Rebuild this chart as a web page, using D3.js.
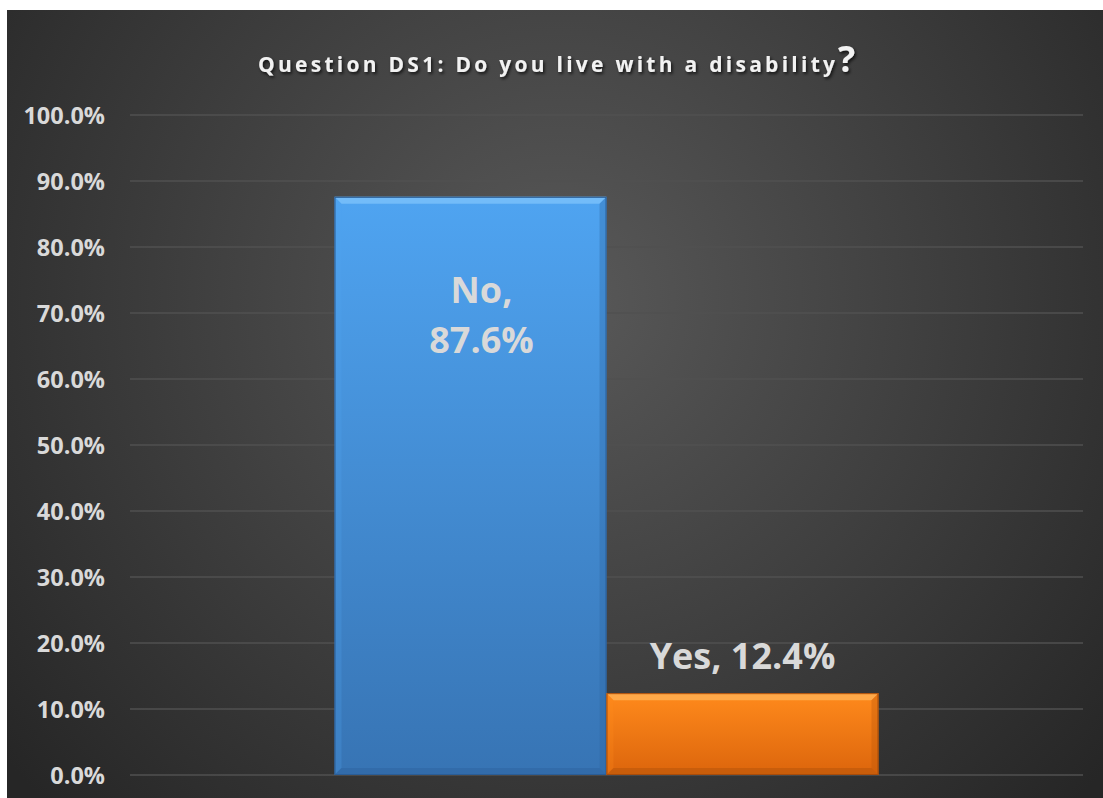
<!DOCTYPE html>
<html>
<head>
<meta charset="utf-8">
<script src="https://cdn.jsdelivr.net/npm/d3@7"></script>
<style>
  html, body { margin: 0; padding: 0; background: #fff; }
  svg { display: block; }
  text { font-family: "Open Sans", "Noto Sans", sans-serif; font-weight: bold; }
</style>
</head>
<body>
<svg id="chart" width="1103" height="798"></svg>
<script>
(function() {

  // chart data
  var categories = ["No", "Yes"];
  var values = [0.876, 0.124];
  var labels = ["No,|87.6%", "Yes, 12.4%"];
  var tickValues = [0, 0.1, 0.2, 0.3, 0.4, 0.5, 0.6, 0.7, 0.8, 0.9, 1.0];
  var titleText = "Question DS1: Do you live with a disability";

  var palette = {
    No: { top: "#4fa4f1", bottom: "#3774b4", light: "#7cc2fb", dark: "#2f66a3", edge: "#2a5d96" },
    Yes: { top: "#ff8a1c", bottom: "#dc650c", light: "#ffb255", dark: "#bb560a", edge: "#a84c0a" }
  };

  var svg = d3.select("#chart");
  var defs = svg.append("defs");

  // background gradient
  var bg = defs.append("radialGradient")
    .attr("id", "bg-grad")
    .attr("gradientUnits", "userSpaceOnUse")
    .attr("cx", 560).attr("cy", 300).attr("r", 720);
  bg.append("stop").attr("offset", "0%").attr("stop-color", "#595959");
  bg.append("stop").attr("offset", "100%").attr("stop-color", "#262626");

  svg.append("rect")
    .attr("x", 7).attr("y", 10)
    .attr("width", 1096).attr("height", 788)
    .attr("fill", "url(#bg-grad)");

  // title shadow
  var shadow = defs.append("filter").attr("id", "txt-shadow")
    .attr("x", "-10%").attr("y", "-30%").attr("width", "120%").attr("height", "160%");
  shadow.append("feDropShadow")
    .attr("dx", 1.5).attr("dy", 2).attr("stdDeviation", 1.5)
    .attr("flood-color", "#000").attr("flood-opacity", 0.7);

  categories.forEach(function(c) {
    var g = defs.append("linearGradient")
      .attr("id", "grad-" + c)
      .attr("x1", 0).attr("y1", 0).attr("x2", 0).attr("y2", 1);
    g.append("stop").attr("offset", "0%").attr("stop-color", palette[c].top);
    g.append("stop").attr("offset", "100%").attr("stop-color", palette[c].bottom);
  });

  var margin = { top: 115, right: 20, bottom: 23, left: 130 };
  var plotRight = 1083;
  var plotBottom = 775;

  var x = d3.scaleBand()
    .domain(categories)
    .range([margin.left, plotRight])
    .paddingInner(0)
    .paddingOuter(0.752);

  var y = d3.scaleLinear()
    .domain([0, 1])
    .range([plotBottom, margin.top]);

  // gridlines
  svg.append("g")
    .attr("class", "grid")
    .selectAll("line")
    .data(tickValues)
    .enter()
    .append("line")
    .attr("x1", margin.left)
    .attr("x2", plotRight)
    .attr("y1", function(d) { return y(d); })
    .attr("y2", function(d) { return y(d); })
    .attr("stroke", "#505050")
    .attr("stroke-width", 1.5);

  // y axis labels
  var yAxis = d3.axisLeft(y)
    .tickValues(tickValues)
    .tickFormat(d3.format(".1%"))
    .tickSize(0)
    .tickPadding(0);

  var yAxisG = svg.append("g")
    .attr("transform", "translate(105,0)")
    .call(yAxis);
  yAxisG.select(".domain").remove();
  yAxisG.selectAll("text")
    .attr("fill", "#d9d9d9")
    .attr("font-size", 23.5)
    .attr("font-family", "'Open Sans', sans-serif")
    .attr("font-weight", "bold")
    .attr("dy", "0.36em");

  // bars with bevel
  var bev = 7;
  var bars = svg.append("g").attr("class", "bars")
    .selectAll("g")
    .data(categories.map(function(c, i) { return { cat: c, value: values[i], label: labels[i] }; }))
    .enter()
    .append("g");

  bars.each(function(d) {
    var g = d3.select(this);
    var x0 = x(d.cat), x1 = x0 + x.bandwidth();
    var y0 = y(d.value), y1 = y(0);
    var col = palette[d.cat];

    g.append("rect")
      .attr("x", x0).attr("y", y0)
      .attr("width", x1 - x0).attr("height", y1 - y0)
      .attr("fill", "url(#grad-" + d.cat + ")");

    // top bevel
    g.append("polygon")
      .attr("points", [[x0, y0], [x1, y0], [x1 - bev, y0 + bev], [x0 + bev, y0 + bev]].join(" "))
      .attr("fill", col.light).attr("opacity", 0.8);
    // left bevel
    g.append("polygon")
      .attr("points", [[x0, y0], [x0 + bev, y0 + bev], [x0 + bev, y1 - bev], [x0, y1]].join(" "))
      .attr("fill", col.top).attr("opacity", 0.25);
    // right bevel
    g.append("polygon")
      .attr("points", [[x1, y0], [x1, y1], [x1 - bev, y1 - bev], [x1 - bev, y0 + bev]].join(" "))
      .attr("fill", col.dark).attr("opacity", 0.35);
    // bottom bevel
    g.append("polygon")
      .attr("points", [[x0, y1], [x0 + bev, y1 - bev], [x1 - bev, y1 - bev], [x1, y1]].join(" "))
      .attr("fill", col.dark).attr("opacity", 0.6);

    g.append("rect")
      .attr("x", x0 + 0.5).attr("y", y0 + 0.5)
      .attr("width", x1 - x0 - 1).attr("height", y1 - y0 - 1)
      .attr("fill", "none")
      .attr("stroke", col.edge)
      .attr("stroke-width", 1);
  });

  // data labels: inside top for tall bar, above for short bar
  bars.each(function(d) {
    var g = d3.select(this);
    var cx = x(d.cat) + x.bandwidth() / 2;
    var parts = d.label.split("|");
    var t = g.append("text")
      .attr("text-anchor", "middle")
      .attr("fill", "#d9d9d9")
      .attr("font-size", 36);
    if (parts.length > 1) {
      // the wrapped label sits a little right of the bar centre
      parts.forEach(function(p, i) {
        t.append("tspan")
          .attr("x", cx + 11)
          .attr("y", y(d.value) + 106 + i * 50)
          .text(p);
      });
    } else {
      t.attr("x", cx).attr("y", y(d.value) - 24).text(parts[0]);
    }
  });

  // title
  var title = svg.append("text")
    .attr("y", 72)
    .attr("fill", "#f2f2f2")
    .attr("filter", "url(#txt-shadow)");
  title.append("tspan")
    .attr("x", 258)
    .attr("font-size", 21)
    .attr("textLength", 577)
    .attr("lengthAdjust", "spacing")
    .text(titleText);
  title.append("tspan")
    .attr("x", 838)
    .attr("font-size", 36)
    .text("?");

})();
</script>
</body>
</html>
